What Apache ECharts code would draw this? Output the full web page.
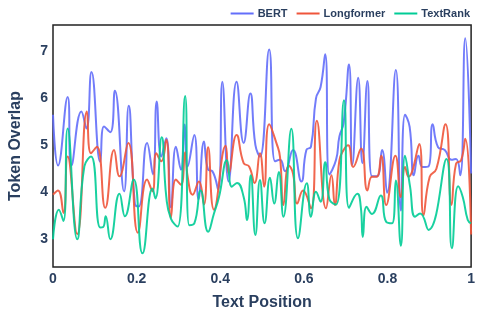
<!DOCTYPE html>
<html>
<head>
<meta charset="utf-8">
<script src="https://cdn.jsdelivr.net/npm/echarts@6/dist/echarts.min.js"></script>
<style>
  html, body { margin: 0; padding: 0; background: #fff; }
  #chart { width: 478px; height: 316px; }
</style>
</head>
<body>
<div id="chart"></div>
<script>
// values (x = text position, y = token overlap)
const bertX = [0,0.012,0.035,0.044,0.068,0.080,0.092,0.113,0.122,0.137,0.148,0.170,0.181,0.196,0.205,0.225,0.239,0.248,0.259,0.271,0.282,0.294,0.306,0.315,0.322,0.338,0.348,0.361,0.371,0.381,0.395,0.405,0.420,0.439,0.456,0.472,0.484,0.495,0.517,0.531,0.543,0.555,0.574,0.594,0.606,0.617,0.629,0.640,0.651,0.661,0.677,0.685,0.695,0.708,0.716,0.730,0.740,0.752,0.763,0.775,0.787,0.799,0.820,0.832,0.842,0.853,0.863,0.874,0.884,0.898,0.908,0.921,0.937,0.953,0.964,0.974,0.986,1];
const bertY = [5.65,4.57,6.03,4.57,5.72,5.36,6.56,4.65,5.40,5.28,6.16,4.02,5.84,3.75,3.70,5.05,4.38,5.93,4.76,5.15,3.68,4.97,4.48,5.44,4.55,5.22,3.85,5.08,4.48,4.45,4.06,6.35,4.23,6.35,5.05,6.10,5.01,4.76,7.04,4.66,4.69,4.45,4.90,4.23,4.90,4.97,6.00,6.24,6.94,4.38,4.69,5.19,5.47,6.72,4.59,6.44,4.62,6.37,4.34,4.34,4.90,3.99,6.60,3.61,5.65,5.39,4.36,4.78,4.54,4.55,5.45,4.96,4.90,4.69,4.71,4.36,7.28,4.40];

const longX = [0,0.012,0.025,0.035,0.058,0.081,0.091,0.105,0.125,0.146,0.159,0.180,0.203,0.225,0.238,0.247,0.259,0.271,0.282,0.294,0.306,0.316,0.322,0.334,0.349,0.361,0.371,0.385,0.413,0.420,0.439,0.456,0.469,0.482,0.495,0.505,0.517,0.535,0.543,0.551,0.564,0.574,0.584,0.598,0.617,0.631,0.653,0.666,0.674,0.685,0.695,0.706,0.718,0.737,0.752,0.763,0.774,0.785,0.797,0.819,0.832,0.842,0.850,0.876,0.886,0.901,0.917,0.939,0.953,0.964,0.976,0.986,1];
const longY = [3.95,4.04,3.56,4.76,3.11,5.72,4.83,4.97,3.67,4.90,4.34,5.05,3.14,4.27,4.02,4.83,4.66,5.12,3.46,4.27,4.16,4.85,4.34,3.95,4.23,3.74,4.96,3.63,4.99,4.41,5.22,4.62,4.55,4.20,4.83,4.12,5.45,5.03,4.75,3.73,4.57,4.40,3.76,4.04,3.66,5.52,3.66,4.36,3.73,4.68,4.90,5.00,4.54,4.93,4.04,4.33,4.33,4.78,3.73,4.78,3.90,4.54,4.33,5.03,3.51,4.33,4.50,5.45,3.73,4.61,4.68,5.14,3.10];

const rankX = [0,0.014,0.025,0.035,0.058,0.075,0.091,0.113,0.120,0.126,0.137,0.159,0.172,0.193,0.214,0.238,0.245,0.260,0.271,0.282,0.298,0.316,0.326,0.338,0.353,0.371,0.385,0.397,0.416,0.428,0.440,0.456,0.464,0.473,0.484,0.495,0.506,0.519,0.529,0.540,0.551,0.570,0.586,0.607,0.617,0.629,0.640,0.651,0.661,0.677,0.696,0.708,0.728,0.736,0.741,0.750,0.763,0.784,0.797,0.811,0.820,0.832,0.842,0.854,0.866,0.878,0.898,0.941,0.954,0.969,0.980,0.992,1];
const rankY = [3.00,3.63,3.39,5.36,3.00,4.55,4.76,3.25,3.26,3.49,3.00,3.97,3.49,4.27,2.70,4.08,3.87,5.17,3.90,3.44,3.27,6.05,3.30,3.34,4.04,3.16,3.55,3.90,4.68,4.12,4.20,3.90,3.41,4.36,3.09,4.26,3.34,4.31,3.76,4.43,3.48,5.35,3.02,4.19,3.48,4.01,3.80,4.64,3.85,3.74,5.96,3.67,3.97,3.70,3.05,3.69,3.54,3.93,3.37,3.34,4.25,2.86,4.78,4.12,3.48,3.55,3.20,4.71,2.81,4.13,3.90,3.41,3.34];

const yTicks = [3, 4, 5, 6, 7];
const names = ['BERT', 'Longformer', 'TextRank'];
const colors = ['#636efa', '#ef553b', '#00cc96'];

const pairs = (xs, ys) => xs.map((x, i) => [x, ys[i]]);
const seriesData = [pairs(bertX, bertY), pairs(longX, longY), pairs(rankX, rankY)];

const font = 'Liberation Sans, Arial, sans-serif';
const ink = '#2a3f5f';

const chart = echarts.init(document.getElementById('chart'));
chart.setOption({
  animation: false,
  backgroundColor: '#fff',
  color: colors,
  textStyle: { fontFamily: font },
  legend: {
    data: names,
    top: 3,
    right: 3,
    itemWidth: 23,
    itemHeight: 2,
    itemGap: 9,
    icon: 'rect',
    textStyle: { color: ink, fontWeight: 'bold', fontSize: 11, fontFamily: font, padding: [0, 0, 0, -1] }
  },
  grid: {
    left: 52, right: 3, top: 25, bottom: 48,
    show: true, borderColor: '#222', borderWidth: 1.5, backgroundColor: '#fff'
  },
  xAxis: {
    type: 'value',
    min: 0, max: 1, interval: 0.2,
    name: 'Text Position',
    nameLocation: 'middle',
    nameGap: 28,
    nameTextStyle: { color: ink, fontWeight: 'bold', fontSize: 16, fontFamily: font },
    axisLine: { show: false },
    axisTick: { show: false },
    splitLine: { show: false },
    axisLabel: {
      color: ink, fontWeight: 'bold', fontSize: 14, margin: 5,
      formatter: v => String(Math.round(v * 10) / 10)
    }
  },
  yAxis: {
    type: 'value',
    min: 2.41, max: 7.56,
    name: 'Token Overlap',
    nameLocation: 'middle',
    nameGap: 29,
    nameTextStyle: { color: ink, fontWeight: 'bold', fontSize: 16, fontFamily: font },
    axisLine: { show: false },
    axisTick: { show: false },
    splitLine: { show: false },
    axisLabel: {
      color: ink, fontWeight: 'bold', fontSize: 14, margin: 5,
      customValues: yTicks
    }
  },
  series: names.map((n, i) => ({
    name: n,
    type: 'line',
    data: seriesData[i],
    smooth: 0.5,
    showSymbol: false,
    lineStyle: { width: 2, color: colors[i], opacity: 0.9 }
  }))
});
window.addEventListener('resize', function(){ chart.resize(); });
</script>
</body>
</html>
